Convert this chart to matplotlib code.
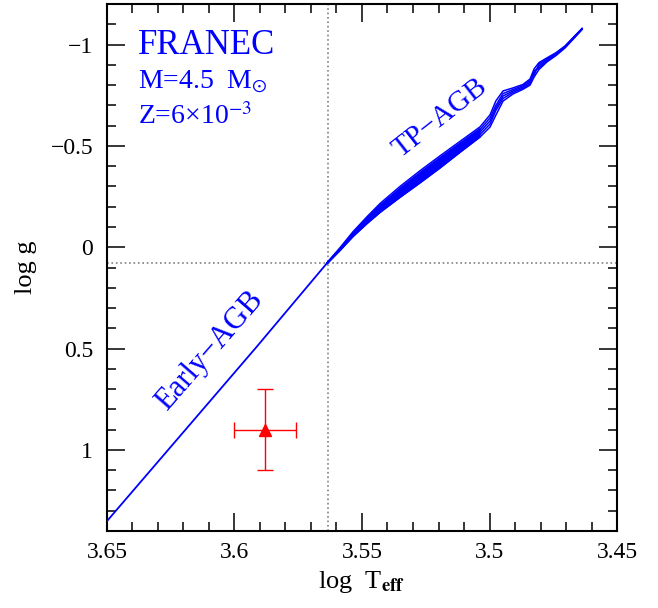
import numpy as np
import matplotlib
matplotlib.use('agg')
import matplotlib.pyplot as plt
from matplotlib.ticker import MultipleLocator

plt.rcParams['font.family'] = ['Liberation Serif', 'DejaVu Serif']
plt.rcParams['mathtext.fontset'] = 'stix'

# early AGB (single track)
early_teff = [3.650, 3.5913, 3.5637]
early_logg = [1.351, 0.491, 0.078]

# thermally pulsing AGB, several pulse strands on a common Teff grid
tp_teff = [3.5637, 3.5586, 3.5535, 3.5480, 3.5429, 3.5351, 3.5273, 3.5194,
           3.5116, 3.5037, 3.4998, 3.4975, 3.4947, 3.4908, 3.4869, 3.4841,
           3.4825, 3.4806, 3.4775, 3.4739, 3.4704, 3.4637]
tp_logg_a = [0.076, 0.002, -0.077, -0.151, -0.216, -0.300, -0.377, -0.451,
             -0.522, -0.594, -0.653, -0.722, -0.771, -0.786, -0.803, -0.830,
             -0.880, -0.911, -0.934, -0.960, -0.993, -1.080]
tp_logg_b = [0.077, 0.005, -0.071, -0.143, -0.205, -0.287, -0.362, -0.436,
             -0.509, -0.581, -0.638, -0.700, -0.758, -0.778, -0.797, -0.822,
             -0.850, -0.903, -0.929, -0.957, -0.990, -1.078]
tp_logg_c = [0.078, 0.009, -0.065, -0.134, -0.194, -0.273, -0.347, -0.421,
             -0.495, -0.569, -0.623, -0.687, -0.746, -0.771, -0.791, -0.815,
             -0.860, -0.894, -0.924, -0.953, -0.988, -1.077]
tp_logg_d = [0.079, 0.013, -0.059, -0.125, -0.183, -0.259, -0.332, -0.406,
             -0.481, -0.557, -0.608, -0.675, -0.734, -0.764, -0.785, -0.808,
             -0.870, -0.885, -0.919, -0.949, -0.986, -1.076]
tp_logg_e = [0.081, 0.016, -0.053, -0.117, -0.172, -0.246, -0.317, -0.391,
             -0.468, -0.544, -0.593, -0.652, -0.721, -0.756, -0.779, -0.800,
             -0.840, -0.877, -0.914, -0.946, -0.983, -1.074]

# observed star
star_teff = 3.588
star_teff_err = 0.012
star_logg = 0.90
star_logg_err = 0.20

# reference lines
ref_teff = 3.5635
ref_logg = 0.078

x_ticks = [3.65, 3.6, 3.55, 3.5, 3.45]
x_labels = ['3.65', '3.6', '3.55', '3.5', '3.45']
y_ticks = [-1, -0.5, 0, 0.5, 1]
y_labels = ['\u22121', '\u22120.5', '0', '0.5', '1']

fig = plt.figure(figsize=(6.58, 6.08), dpi=100)
ax = fig.add_axes([0.1626, 0.1266, 0.7751, 0.8668])

ax.axvline(ref_teff, color='grey', ls=':', lw=1.2, zorder=1)
ax.axhline(ref_logg, color='grey', ls=':', lw=1.2, zorder=1)

ax.plot(early_teff, early_logg, color='blue', lw=1.3, zorder=3)

tp = np.array(tp_teff)
ax.fill_between(tp, tp_logg_a, tp_logg_e, where=tp > 3.5, color='blue',
                lw=0, zorder=2)
for strand in [tp_logg_a, tp_logg_b, tp_logg_c, tp_logg_d, tp_logg_e]:
    ax.plot(tp_teff, strand, color='blue', lw=1.1, zorder=3)

ax.errorbar(star_teff, star_logg, xerr=star_teff_err, yerr=star_logg_err,
            fmt='^', color='red', ms=9, elinewidth=1.0, capsize=5.5,
            capthick=1.0, zorder=4)

ax.set_xlim(3.65, 3.45)
ax.set_ylim(1.4, -1.2)
ax.set_xticks(x_ticks)
ax.set_xticklabels(x_labels)
ax.set_yticks(y_ticks)
ax.set_yticklabels(y_labels)
ax.xaxis.set_minor_locator(MultipleLocator(0.01))
ax.yaxis.set_minor_locator(MultipleLocator(0.1))
ax.tick_params(which='both', direction='in', top=True, right=True,
               width=1.1, labelsize=17)
ax.tick_params(which='major', length=13)
ax.tick_params(which='minor', length=6.5)
ax.tick_params(axis='x', pad=8)
ax.tick_params(axis='y', pad=10)
for sp in ax.spines.values():
    sp.set_linewidth(1.5)

ax.set_xlabel(r'log  T$_{\mathbf{eff}}$', fontsize=19, labelpad=4)
ax.set_ylabel('log g', fontsize=19, labelpad=10)

ax.text(0.06, 0.952, 'FRANEC', transform=ax.transAxes, color='blue',
        fontsize=25, va='top', ha='left')
ax.text(0.06, 0.877, r'M=4.5  M$_{\odot}$', transform=ax.transAxes,
        color='blue', fontsize=20, va='top', ha='left')
ax.text(0.06, 0.812, 'Z=6\u00d710$^{\u22123}$', transform=ax.transAxes,
        color='blue', fontsize=20, va='top', ha='left')
ax.text(3.5194, -0.638, 'TP\u2212AGB', color='blue', fontsize=21,
        rotation=38, ha='center', va='center')
ax.text(3.6096, 0.512, 'Early\u2212AGB', color='blue', fontsize=22,
        rotation=49, ha='center', va='center')

fig.savefig('out.png', dpi=100)
